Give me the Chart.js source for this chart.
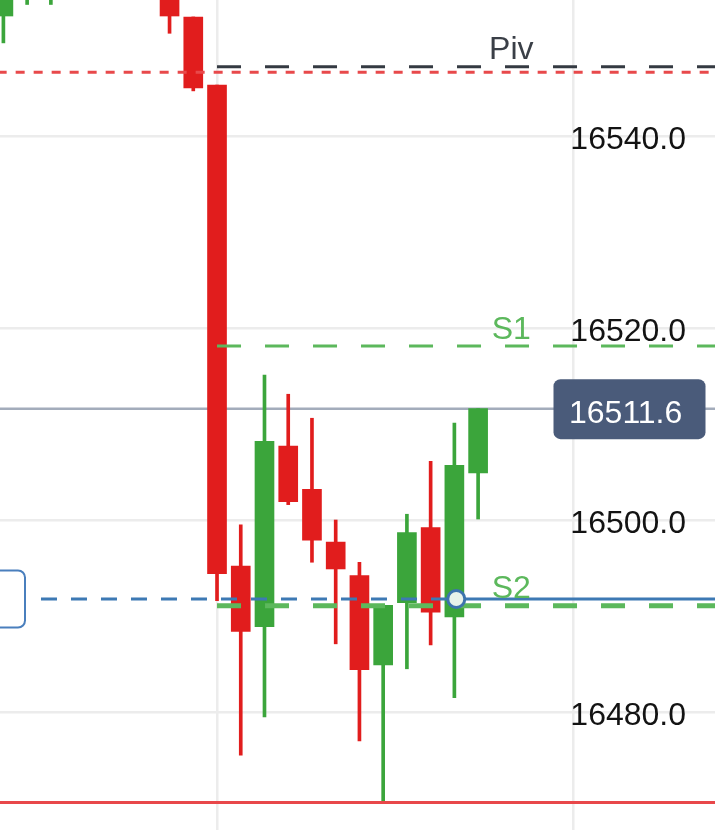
<!DOCTYPE html>
<html>
<head>
<meta charset="utf-8">
<script src="https://cdn.jsdelivr.net/npm/chart.js@4.4.1/dist/chart.umd.min.js"></script>
<style>
  html, body { margin: 0; padding: 0; background: #fff; }
  #candles { display: block; }
</style>
</head>
<body>
<canvas id="candles" width="715" height="830"></canvas>
<script>
// candles by bar index (3-6 sit above the visible range)
const opens = [16552.5, 16556.0, 16557.5, null, null, null, null, 16556.5, 16552.4, 16545.3, 16495.2,
  16488.9, 16507.7, 16503.2, 16497.7, 16494.2, 16484.9, 16491.4, 16499.2, 16489.9, 16504.9];
const highs = [16557.0, 16559.0, 16561.0, null, null, null, null, 16557.0, 16552.4, 16545.3, 16499.5,
  16515.1, 16513.1, 16510.6, 16500.0, 16495.6, 16491.2, 16500.6, 16506.1, 16510.1, 16511.6];
const lows = [16549.7, 16553.7, 16553.7, null, null, null, null, 16550.7, 16544.7, 16491.6, 16475.5,
  16479.5, 16501.6, 16495.6, 16487.1, 16477.0, 16470.6, 16484.5, 16487.0, 16481.5, 16500.1];
const closes = [16556.0, 16558.0, 16560.0, null, null, null, null, 16552.5, 16545.0, 16494.4, 16488.4,
  16508.2, 16501.9, 16497.9, 16494.9, 16484.4, 16491.1, 16498.7, 16490.4, 16505.7, 16511.6];

const yTicks = [16480, 16500, 16520, 16540];
const xGridTicks = [9, 24];

const lastPrice = 16511.6;
const levelNames = ["Piv", "S1", "S2"];
const levelValues = [16547.22, 16518.12, 16491.06];
const levelStart = 9;
const dailyHigh = 16546.64;
const dailyLow = 16470.57;
const entryPrice = 16491.77;
const entryBar = 19.08;

const UP = "#3ba53b";
const DOWN = "#e11d1d";
const GREEN_LVL = "#5cb85c";
const X_MIN = -0.143;
const X_MAX = 29.98;

const candles = opens
  .map((o, i) => ({ i, o, h: highs[i], l: lows[i], c: closes[i] }))
  .filter((k) => k.o !== null);
const candleColors = candles.map((k) => (k.c >= k.o ? UP : DOWN));

function hLine(from, to, value) {
  return [{ x: from, y: value }, { x: to, y: value }];
}

function lineSet(data, color, width, dash, order) {
  return {
    type: "line",
    data: data,
    borderColor: color,
    borderWidth: width,
    borderDash: dash,
    pointRadius: 0,
    fill: false,
    order: order,
  };
}

const overlay = {
  id: "overlay",
  afterDatasetsDraw(chart) {
    const { ctx, scales: { x, y } } = chart;
    ctx.save();
    ctx.font = "32px 'Liberation Sans', Arial, sans-serif";

    // price axis labels drawn over the plot
    ctx.fillStyle = "#131313";
    ctx.textAlign = "right";
    ctx.textBaseline = "alphabetic";
    y.ticks.forEach((t) => {
      ctx.fillText(t.value.toFixed(1), 686, y.getPixelForValue(t.value) + 13);
    });

    // level names
    ctx.textAlign = "center";
    levelNames.forEach((name, i) => {
      ctx.fillStyle = i === 0 ? "#3a3f47" : GREEN_LVL;
      ctx.fillText(name, x.getPixelForValue(21.4), y.getPixelForValue(levelValues[i]) - 7.5);
    });

    // position tag at the left edge
    const ey = y.getPixelForValue(entryPrice);
    ctx.beginPath();
    ctx.roundRect(-12, ey - 28.5, 37, 57, 7);
    ctx.fillStyle = "#ffffff";
    ctx.fill();
    ctx.lineWidth = 2;
    ctx.strokeStyle = "#4a7fbd";
    ctx.stroke();

    // last price tag
    const py = y.getPixelForValue(lastPrice);
    ctx.beginPath();
    ctx.roundRect(553.5, py - 29.5, 152, 60, 7);
    ctx.fillStyle = "#4a5b7a";
    ctx.fill();
    ctx.fillStyle = "#ffffff";
    ctx.textAlign = "left";
    ctx.fillText(lastPrice.toFixed(1), 569, py + 14);
    ctx.restore();
  },
};

const ctx = document.getElementById("candles").getContext("2d");

const config = {
  data: {
    datasets: [
      {
        type: "bar",
        data: candles.map((k) => ({ x: k.i, y: [k.l, k.h] })),
        backgroundColor: candleColors,
        barThickness: 3,
        grouped: false,
        order: 5,
      },
      {
        type: "bar",
        data: candles.map((k) => ({ x: k.i, y: [k.o, k.c] })),
        backgroundColor: candleColors,
        barThickness: 19,
        grouped: false,
        order: 4,
      },
      lineSet(hLine(-1, 31, lastPrice), "#a3acbb", 2.5, [], 6),
      lineSet(hLine(-1, 31, dailyHigh), "#e8494b", 3, [9, 9], 1),
      lineSet(hLine(-1, 31, dailyLow), "#e8474a", 3, [], 1),
      lineSet(hLine(levelStart, 31, levelValues[0]), "#343a42", 3, [24, 24], 1),
      lineSet(hLine(levelStart, 31, levelValues[1]), GREEN_LVL, 3, [24, 24], 1),
      lineSet(hLine(levelStart, 31, levelValues[2]), GREEN_LVL, 5, [24, 24], 1),
      lineSet(hLine(1.584, entryBar, entryPrice), "#3d79b4", 3, [16, 14], 1),
      lineSet(hLine(entryBar, 31, entryPrice), "#3d79b4", 3, [], 1),
      {
        type: "line",
        data: [{ x: entryBar, y: entryPrice }],
        pointRadius: 8.5,
        pointBackgroundColor: "#e8f3ea",
        pointBorderColor: "#3d74ad",
        pointBorderWidth: 3,
        showLine: false,
        order: 0,
      },
    ],
  },
  options: {
    responsive: false,
    animation: false,
    layout: { padding: 0, autoPadding: false },
    plugins: {
      legend: { display: false },
      tooltip: { enabled: false },
    },
    scales: {
      x: {
        type: "linear",
        min: X_MIN,
        max: X_MAX,
        offset: false,
        afterBuildTicks: (scale) => {
          scale.ticks = xGridTicks.map((v) => ({ value: v }));
        },
        ticks: { display: false },
        border: { display: false },
        grid: { color: "#ececec", lineWidth: 2.5, drawTicks: false, offset: false },
      },
      y: {
        type: "linear",
        position: "right",
        min: 16467.708,
        max: 16554.167,
        afterBuildTicks: (scale) => {
          scale.ticks = yTicks.map((v) => ({ value: v }));
        },
        ticks: { display: false },
        border: { display: false },
        grid: { color: "#ececec", lineWidth: 2.5, drawTicks: false },
      },
    },
  },
  plugins: [overlay],
};

const myChart = new Chart(ctx, config);
</script>
</body>
</html>
